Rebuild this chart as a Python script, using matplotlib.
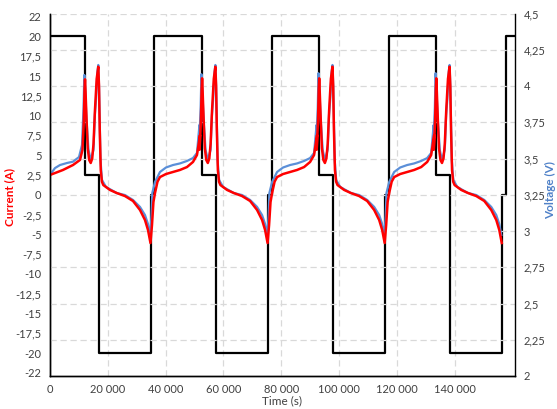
import matplotlib
matplotlib.use("Agg")
import matplotlib.pyplot as plt

plt.rcParams['font.family'] = ['Lato', 'DejaVu Sans']

# current step profile (A)
cur_t = [0, 12160, 17000, 35000, 36000, 52610, 57450, 75450, 76600,
         93060, 97900, 115900, 117100, 133510, 138350, 156350, 157500, 160700]
cur_a = [20, 2.5, -20, 0, 20, 2.5, -20, 0, 20,
         2.5, -20, 0, 20, 2.5, -20, 0, 20, 20]

# red voltage trace (V)
red_t = [0, 4560, 8010, 10430,
         11300, 11750, 12000, 12160, 12350, 12700, 13100, 13600, 14130, 14650,
         15100, 15600, 16200, 16750, 17000, 17250, 17600, 18000, 18480, 20790,
         23110, 25970, 28740, 31150, 32880, 33920, 34450, 34780,
         35300, 35800, 36340, 37200, 38060, 40140, 42550, 44970, 47390, 49460,
         50840, 51880,
         51750, 52200, 52450, 52610, 52800, 53150, 53550, 54050, 54580, 55100,
         55550, 56050, 56650, 57200, 57450, 57700, 58050, 58450, 58930, 61240,
         63560, 66420, 69190, 71600, 73330, 74370, 74900, 75230,
         75750, 76250, 76790, 77650, 78510, 80590, 83000, 85420, 87840, 89910,
         91290, 92330,
         92200, 92650, 92900, 93060, 93250, 93600, 94000, 94500, 95030, 95550,
         96000, 96500, 97100, 97650, 97900, 98150, 98500, 98900, 99380, 101690,
         104010, 106870, 109640, 112050, 113780, 114820, 115350, 115680,
         116200, 116700, 117240, 118100, 118960, 121040, 123450, 125870, 128290,
         130360, 131740, 132780,
         132650, 133100, 133350, 133510, 133700, 134050, 134450, 134950, 135480,
         136000, 136450, 136950, 137550, 138100, 138350, 138600, 138950, 139350,
         139830, 142140, 144460, 147320, 150090, 152500, 154230, 155270, 155800,
         156130]
red_v = [3.386, 3.421, 3.455, 3.490,
         3.56, 3.76, 3.98, 4.046, 3.96, 3.766, 3.57, 3.49, 3.469, 3.50,
         3.60, 3.834, 4.05, 4.133, 4.00, 3.70, 3.421, 3.34, 3.317, 3.283,
         3.262, 3.241, 3.207, 3.145, 3.076, 3.007, 2.95, 2.917,
         3.041, 3.20, 3.262, 3.34, 3.372, 3.393, 3.407, 3.421, 3.441, 3.476,
         3.524, 3.662,
         3.56, 3.76, 3.98, 4.053, 3.96, 3.766, 3.57, 3.49, 3.469, 3.50,
         3.60, 3.834, 4.05, 4.133, 4.00, 3.70, 3.421, 3.34, 3.317, 3.283,
         3.262, 3.241, 3.207, 3.145, 3.076, 3.007, 2.95, 2.917,
         3.041, 3.20, 3.262, 3.34, 3.372, 3.393, 3.407, 3.421, 3.441, 3.476,
         3.524, 3.662,
         3.56, 3.76, 3.98, 4.053, 3.96, 3.766, 3.57, 3.49, 3.469, 3.50,
         3.60, 3.834, 4.05, 4.133, 4.00, 3.70, 3.421, 3.34, 3.317, 3.283,
         3.262, 3.241, 3.207, 3.145, 3.076, 3.007, 2.95, 2.917,
         3.041, 3.20, 3.262, 3.34, 3.372, 3.393, 3.407, 3.421, 3.441,
         3.476, 3.524, 3.662,
         3.56, 3.76, 3.98, 4.053, 3.96, 3.766, 3.57, 3.49, 3.469,
         3.50, 3.60, 3.834, 4.05, 4.133, 4.00, 3.70, 3.421, 3.34,
         3.317, 3.283, 3.262, 3.241, 3.207, 3.145, 3.076, 3.007, 2.95,
         2.917]

# blue voltage trace (V)
blue_t = [0, 1800, 3520, 5940, 8010, 10090,
          11120, 11660, 11920, 12160, 12680, 13370, 14130, 15090, 15560, 15960,
          16460, 16750, 17000, 17170, 17510, 18030, 19410, 23110, 25970, 28740,
          31150, 32880, 33920, 34610, 34960, 35130, 35400,
          36340, 38060, 40140, 42550, 44970, 47390, 49460, 50840, 51700,
          51570, 52110, 52370, 52610, 53130, 53820, 54580, 55540, 56010, 56410,
          56910, 57200, 57450, 57620, 57960, 58480, 59860, 63560, 66420, 69190,
          71600, 73330, 74370, 75060, 75410, 75580, 75850,
          76790, 78510, 80590, 83000, 85420, 87840, 89910, 91290, 92150,
          92020, 92560, 92820, 93060, 93580, 94270, 95030, 95990, 96460, 96860,
          97360, 97650, 97900, 98070, 98410, 98930, 100310, 104010, 106870,
          109640, 112050, 113780, 114820, 115510, 115860, 116030, 116300,
          117240, 118960, 121040, 123450, 125870, 128290, 130360, 131740, 132600,
          132470, 133010, 133270, 133510, 134030, 134720, 135480, 136440, 136910,
          137310, 137810, 138100, 138350, 138520, 138860, 139380, 140760, 144460,
          147320, 150090, 152500, 154230, 155270, 155960]
blue_v = [3.386, 3.434, 3.455, 3.469, 3.478, 3.510,
          3.593, 3.85, 4.076, 4.00, 3.766, 3.559, 3.490, 3.559, 3.80, 3.904,
          4.10, 4.145, 4.00, 3.834, 3.490, 3.352, 3.304, 3.262, 3.248, 3.214,
          3.166, 3.110, 3.048, 2.972, 3.05, 3.110, 3.262,
          3.338, 3.407, 3.438, 3.455, 3.466, 3.483, 3.503, 3.538, 3.731,
          3.593, 3.85, 4.081, 4.00, 3.766, 3.559, 3.490, 3.559, 3.80, 3.904,
          4.10, 4.145, 4.00, 3.834, 3.490, 3.352, 3.304, 3.262, 3.248, 3.214,
          3.166, 3.110, 3.048, 2.972, 3.05, 3.110, 3.262,
          3.338, 3.407, 3.438, 3.455, 3.466, 3.483, 3.503, 3.538, 3.731,
          3.593, 3.85, 4.088, 4.00, 3.766, 3.559, 3.490, 3.559, 3.80, 3.904,
          4.10, 4.145, 4.00, 3.834, 3.490, 3.352, 3.304, 3.262, 3.248,
          3.214, 3.166, 3.110, 3.048, 2.972, 3.05, 3.110, 3.262,
          3.338, 3.407, 3.438, 3.455, 3.466, 3.483, 3.503, 3.538, 3.731,
          3.593, 3.85, 4.088, 4.00, 3.766, 3.559, 3.490, 3.559, 3.80,
          3.904, 4.10, 4.145, 4.00, 3.834, 3.490, 3.352, 3.304, 3.262,
          3.248, 3.214, 3.166, 3.110, 3.048, 2.972]

time_ticks = [0, 20000, 40000, 60000, 80000, 100000, 120000, 140000]
time_labels = ['0', '20 000', '40 000', '60 000', '80 000', '100 000', '120 000', '140 000']
cur_ticks = [-22.5, -20, -17.5, -15, -12.5, -10, -7.5, -5, -2.5, 0,
             2.5, 5, 7.5, 10, 12.5, 15, 17.5, 20, 22.5]
cur_labels = ['-22', '-20', '-17,5', '-15', '-12,5', '-10', '-7,5', '-5', '-2,5', '0',
              '2,5', '5', '7,5', '10', '12,5', '15', '17,5', '20', '22']
volt_ticks = [2, 2.25, 2.5, 2.75, 3, 3.25, 3.5, 3.75, 4, 4.25, 4.5]
volt_labels = ['2', '2,25', '2,5', '2,75', '3', '3,25', '3,5', '3,75', '4', '4,25', '4,5']

W, H = 557, 409
fig = plt.figure(figsize=(W / 100, H / 100), dpi=100)
ax = fig.add_axes([49.8 / W, 1 - 376 / H, (515 - 49.8) / W, (376 - 13.5) / H])
ax2 = ax.twinx()

grid_kw = dict(color='#d9d9d9', linestyle=(0, (5, 3)), linewidth=0.9)
txt = '#404040'

ax.plot(cur_t, cur_a, drawstyle='steps-post', color='black', lw=1.6)
ax.set_xlim(0, 160700)
ax.set_ylim(-22.9, 22.9)
ax.set_xticks(time_ticks)
ax.set_xticklabels(time_labels)
ax.set_yticks(cur_ticks)
ax.set_yticklabels(cur_labels)
ax.grid(axis='x', **grid_kw)
ax.tick_params(axis='both', length=0, labelsize=8, colors=txt)
ax.tick_params(axis='x', pad=6)
ax.tick_params(axis='y', pad=6)

ax2.plot(blue_t, blue_v, color='#5b8fd8', lw=1.6)
ax2.plot(red_t, red_v, color='#ff0000', lw=1.8)
ax2.set_ylim(2, 4.5)
ax2.set_yticks(volt_ticks)
ax2.set_yticklabels(volt_labels)
ax2.grid(axis='y', **grid_kw)
ax2.set_axisbelow(True)
ax2.tick_params(axis='y', length=0, labelsize=8, colors=txt, pad=6)

for a in (ax, ax2):
    a.spines['top'].set_visible(False)
    for s in ('left', 'right', 'bottom'):
        a.spines[s].set_color('black')
        a.spines[s].set_linewidth(1.0)
ax.spines['right'].set_visible(False)

fig.text(282 / W, 1 - 401 / H, 'Time (s)', color=txt, fontsize=8.5,
         ha='center', va='center')
fig.text(10 / W, 1 - 197 / H, 'Current (A)', rotation=90, color='#ff0000',
         fontsize=8.5, fontweight='bold', ha='center', va='center')
fig.text(551 / W, 1 - 190 / H, 'Voltage (V)', rotation=90, color='#4f81c8',
         fontsize=8.5, fontweight='bold', ha='center', va='center')

fig.savefig('out.png', dpi=100)
